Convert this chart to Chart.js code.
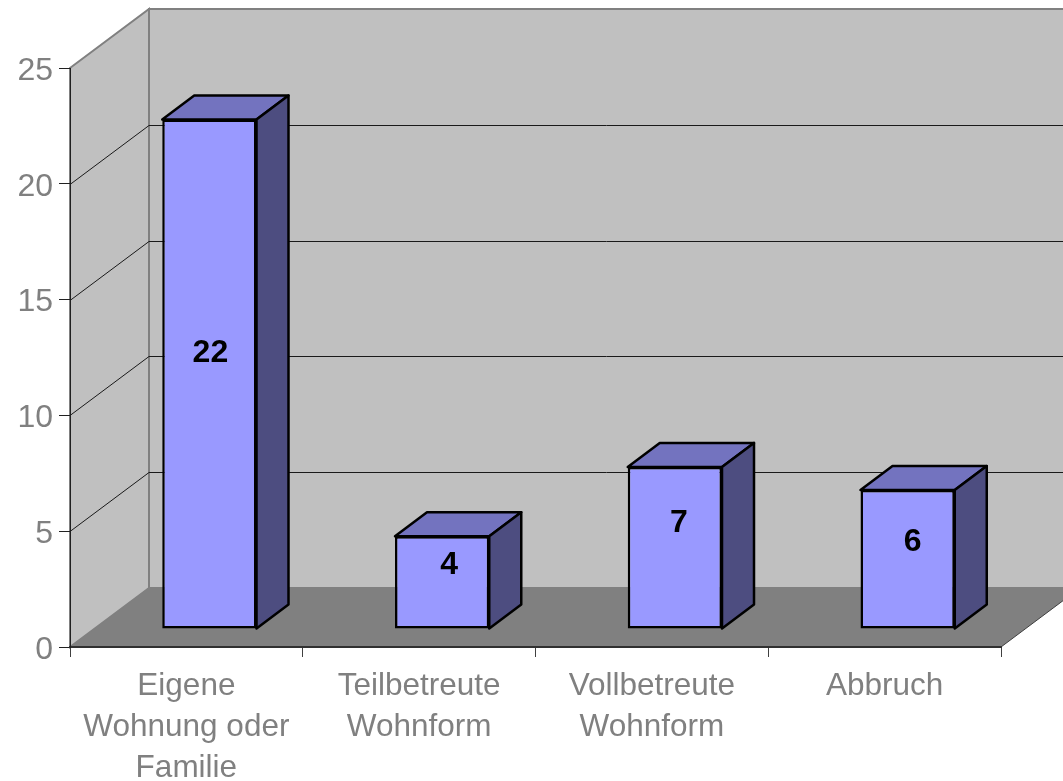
<!DOCTYPE html>
<html>
<head>
<meta charset="utf-8">
<title>Wohnform</title>
<script src="https://cdn.jsdelivr.net/npm/chart.js@4"></script>
<style>
  html, body { margin: 0; padding: 0; background: #fff; }
  canvas { display: block; }
</style>
</head>
<body>
<canvas id="grafico" width="1063" height="781"></canvas>
<script>
const categorias = [['Eigene', 'Wohnung oder', 'Familie'], ['Teilbetreute', 'Wohnform'], ['Vollbetreute', 'Wohnform'], 'Abbruch'];
const valores = [22, 4, 7, 6];
const eixoY = [0, 5, 10, 15, 20, 25];

// perspective of the fake 3D box
const fundo = { x: 79, y: -59 };
const barraPos = { x: 23, y: -18 };
const barraProf = { x: 32, y: -24 };
const ajusteRotulos = [[1, -21], [7, -17], [4, -25], [5, -17]];

const caixa3d = {
  id: 'caixa3d',
  beforeDraw(chart) {
    const { ctx, chartArea: a, scales: { y } } = chart;
    const poly = (pts, fill, stroke, lw) => {
      ctx.beginPath();
      pts.forEach((p, i) => i ? ctx.lineTo(p[0], p[1]) : ctx.moveTo(p[0], p[1]));
      ctx.closePath();
      if (fill) { ctx.fillStyle = fill; ctx.fill(); }
      if (stroke) { ctx.strokeStyle = stroke; ctx.lineWidth = lw; ctx.stroke(); }
    };
    const bx = a.left + fundo.x, tx = a.right + fundo.x;
    const t = a.top + fundo.y, b = a.bottom + fundo.y;
    ctx.save();
    // back wall, side wall, floor
    poly([[bx, t], [tx, t], [tx, b], [bx, b]], '#c0c0c0', '#808080', 2);
    poly([[a.left, a.top], [bx, t], [bx, b], [a.left, a.bottom]], '#c0c0c0', '#808080', 2);
    eixoY.slice(1, -1).forEach(v => {
      const py = Math.round(y.getPixelForValue(v)) + 0.5;
      ctx.beginPath();
      ctx.moveTo(a.left, py);
      ctx.lineTo(bx, py + fundo.y);
      ctx.lineTo(tx, py + fundo.y);
      ctx.strokeStyle = '#1a1a1a';
      ctx.lineWidth = 1;
      ctx.stroke();
    });
    poly([[a.left, a.bottom], [a.right, a.bottom], [tx, b], [bx, b]], '#808080');
    ctx.beginPath();
    ctx.moveTo(a.right, a.bottom);
    ctx.lineTo(tx, b);
    ctx.strokeStyle = '#404040';
    ctx.lineWidth = 1;
    ctx.stroke();
    ctx.restore();
  },
  beforeDatasetsDraw(chart) {
    const { ctx } = chart;
    ctx.save();
    ctx.translate(barraPos.x, barraPos.y);
    ctx.lineJoin = 'round';
    ctx.lineWidth = 2.5;
    ctx.strokeStyle = '#000';
    chart.getDatasetMeta(0).data.forEach(el => {
      const l = el.x - el.width / 2, r = el.x + el.width / 2;
      const d = barraProf;
      // top face
      ctx.beginPath();
      ctx.moveTo(l, el.y);
      ctx.lineTo(l + d.x, el.y + d.y);
      ctx.lineTo(r + d.x, el.y + d.y);
      ctx.lineTo(r, el.y);
      ctx.closePath();
      ctx.fillStyle = '#7373bf';
      ctx.fill();
      ctx.stroke();
      // side face
      ctx.beginPath();
      ctx.moveTo(r, el.y);
      ctx.lineTo(r + d.x, el.y + d.y);
      ctx.lineTo(r + d.x, el.base + d.y);
      ctx.lineTo(r, el.base);
      ctx.closePath();
      ctx.fillStyle = '#4d4d80';
      ctx.fill();
      ctx.stroke();
    });
  },
  afterDatasetsDraw(chart) {
    const { ctx } = chart;
    ctx.restore();
    ctx.save();
    ctx.font = 'bold 32px "Liberation Sans", Arial, sans-serif';
    ctx.fillStyle = '#000';
    ctx.textAlign = 'center';
    ctx.textBaseline = 'middle';
    chart.getDatasetMeta(0).data.forEach((el, i) => {
      const cx = el.x + barraPos.x + ajusteRotulos[i][0];
      const cy = (el.y + el.base) / 2 + barraPos.y + ajusteRotulos[i][1];
      ctx.fillText(valores[i], cx, cy);
    });
    ctx.restore();
  }
};

new Chart(document.getElementById('grafico'), {
  type: 'bar',
  plugins: [caixa3d],
  data: {
    labels: categorias,
    datasets: [{
      data: valores,
      backgroundColor: '#9999ff',
      borderColor: '#000',
      borderWidth: 2.5,
      borderSkipped: false,
      barPercentage: 0.405,
      categoryPercentage: 1,
      clip: false
    }]
  },
  options: {
    responsive: false,
    animation: false,
    layout: { padding: { top: 68, right: 62, left: 0, bottom: 0 } },
    plugins: { legend: { display: false }, tooltip: { enabled: false } },
    scales: {
      x: {
        afterFit(s) { s.height = 134; },
        grid: { drawOnChartArea: false, color: '#404040', tickLength: 10 },
        border: { color: '#303030', width: 2 },
        ticks: {
          color: '#808080',
          padding: 9,
          maxRotation: 0,
          autoSkip: false,
          font: { family: '"Liberation Sans", Arial, sans-serif', size: 31.5, lineHeight: 1.3 }
        }
      },
      y: {
        min: eixoY[0],
        max: eixoY[eixoY.length - 1],
        afterFit(s) { s.width = 70; },
        grid: { drawOnChartArea: false, color: '#202020', tickLength: 11 },
        border: { color: '#202020', width: 1 },
        ticks: {
          stepSize: 5,
          color: '#808080',
          padding: 6,
          labelOffset: 3,
          font: { family: '"Liberation Sans", Arial, sans-serif', size: 32 }
        }
      }
    }
  }
});
</script>
</body>
</html>
